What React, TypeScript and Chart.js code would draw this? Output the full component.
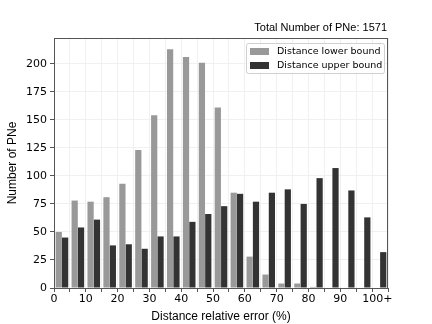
import React, { useEffect, useRef } from "react";
import { Chart, registerables } from "chart.js";

Chart.register(...registerables);

const binStarts = [0, 5, 10, 15, 20, 25, 30, 35, 40, 45, 50, 55, 60, 65, 70, 75, 80, 85, 90, 95, 100];
const lowerBound = [50, 78, 77, 81, 93, 123, 154, 213, 206, 201, 161, 85, 28, 12, 4, 4, 1, 0, 0, 0, 0];
const upperBound = [45, 54, 61, 38, 39, 35, 46, 46, 59, 66, 73, 84, 77, 85, 88, 75, 98, 107, 87, 63, 32];
const xTickLabels: Record<number, string> = {
  0: "0", 10: "10", 20: "20", 30: "30", 40: "40", 50: "50",
  60: "60", 70: "70", 80: "80", 90: "90", 100: "   100+",
};
const seriesNames = ["Distance lower bound", "Distance upper bound"];
const seriesColors = ["#999999", "#333333"];
const titleText = "Total Number of PNe: 1571";

const framePlugin = {
  id: "frame",
  afterDraw(chart: any) {
    const { ctx, chartArea: a } = chart;
    ctx.save();
    ctx.strokeStyle = "#555555";
    ctx.lineWidth = 1;
    ctx.strokeRect(a.left + 0.5, a.top + 0.5, a.right - a.left - 1, a.bottom - a.top);
    // title
    ctx.fillStyle = "#000000";
    ctx.font = "11px 'Liberation Sans', Arial, sans-serif";
    ctx.textAlign = "right";
    ctx.textBaseline = "alphabetic";
    ctx.fillText(titleText, a.right - 1, a.top - 7);
    // legend
    const lx = 246, ly = 43, lw = 138, lh = 30;
    ctx.fillStyle = "rgba(255,255,255,0.85)";
    ctx.strokeStyle = "#d0d0d0";
    ctx.beginPath();
    (ctx as any).roundRect(lx + 0.5, ly + 0.5, lw, lh, 2);
    ctx.fill();
    ctx.stroke();
    ctx.font = "9.5px 'DejaVu Sans', sans-serif";
    ctx.textAlign = "left";
    ctx.textBaseline = "middle";
    seriesNames.forEach((n, i) => {
      const y = ly + 8 + i * 14;
      ctx.fillStyle = seriesColors[i];
      ctx.fillRect(lx + 4, y - 3, 19, 7);
      ctx.fillStyle = "#000000";
      ctx.fillText(n, lx + 31, y + 0.5);
    });
    ctx.restore();
  },
};

export default function App() {
  const ref = useRef<HTMLCanvasElement>(null);
  useEffect(() => {
    if (!ref.current) return;
    const chart = new Chart(ref.current, {
      type: "bar",
      data: {
        labels: binStarts.map(String),
        datasets: [
          { label: seriesNames[0], data: lowerBound, backgroundColor: seriesColors[0], xAxisID: "xc", categoryPercentage: 0.8, barPercentage: 0.98 },
          { label: seriesNames[1], data: upperBound, backgroundColor: seriesColors[1], xAxisID: "xc", categoryPercentage: 0.8, barPercentage: 0.98 },
        ],
      },
      options: {
        animation: false,
        responsive: false,
        layout: { padding: { left: 0, right: 44, top: 38, bottom: 0 } },
        plugins: { legend: { display: false }, tooltip: { enabled: false }, title: { display: false } },
        scales: {
          xc: { type: "category", display: false, offset: true },
          x: {
            type: "linear",
            position: "bottom",
            min: 0,
            max: 105,
            offset: false,
            afterBuildTicks: (s: any) => {
              s.ticks = binStarts.concat([105]).map((v) => ({ value: v }));
            },
            ticks: {
              autoSkip: false,
              maxRotation: 0,
              padding: 1,
              color: "#000000",
              font: { family: "'DejaVu Sans', sans-serif", size: 11 },
              callback: (v: any) => xTickLabels[v as number] ?? "",
            },
            grid: { color: "#f0f0f0", tickColor: "#555555", tickLength: 4, drawTicks: true, offset: false },
            border: { color: "#555555" },
            title: {
              display: true,
              text: "Distance relative error (%)",
              color: "#000000",
              font: { family: "'Liberation Sans', Arial, sans-serif", size: 12 },
              padding: { top: 0, bottom: 0 },
            },
            afterFit: (s: any) => { s.height = 36; },
          },
          y: {
            type: "linear",
            min: 0,
            max: 223,
            afterBuildTicks: (s: any) => {
              s.ticks = [0, 25, 50, 75, 100, 125, 150, 175, 200].map((v) => ({ value: v }));
            },
            ticks: {
              padding: 3,
              color: "#000000",
              font: { family: "'DejaVu Sans', sans-serif", size: 11 },
            },
            grid: { color: "#f0f0f0", tickColor: "#555555", tickLength: 4 },
            border: { color: "#555555" },
            title: {
              display: true,
              text: "Number of PNe",
              color: "#000000",
              font: { family: "'Liberation Sans', Arial, sans-serif", size: 12 },
              padding: { top: 5, bottom: 0 },
            },
            afterFit: (s: any) => { s.width = 54; },
          },
        },
      },
      plugins: [framePlugin],
    });
    return () => chart.destroy();
  }, []);
  return (
    <div style={{ position: "absolute", left: 0, top: 0, width: 432, height: 324, background: "#fff" }}>
      <canvas ref={ref} width={432} height={324} />
    </div>
  );
}
